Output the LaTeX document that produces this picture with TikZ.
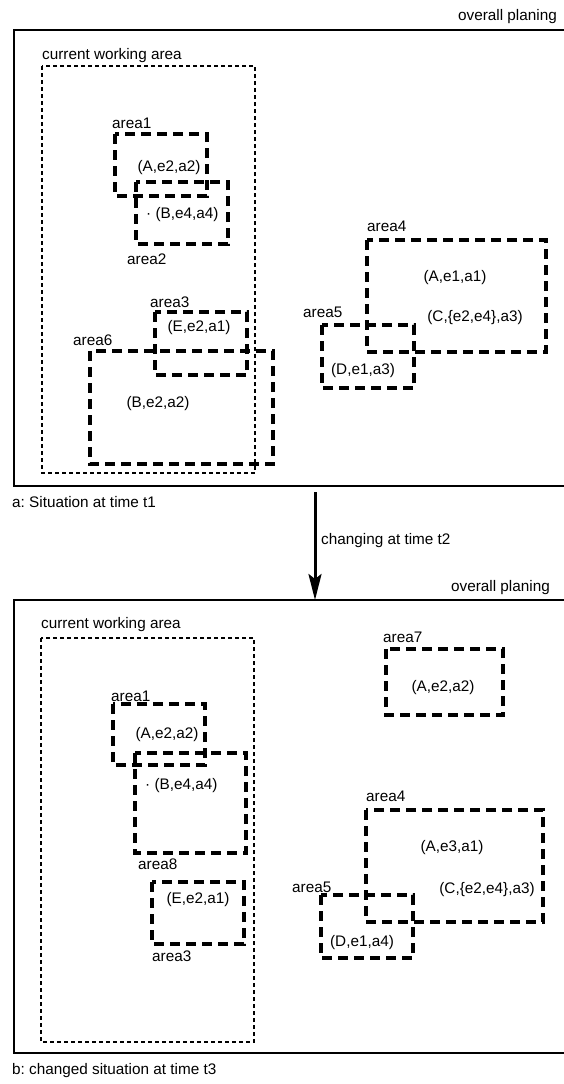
\documentclass[tikz,border=0pt]{standalone}
\usepackage{fontspec}
\setmainfont{Liberation Sans}
\usetikzlibrary{arrows.meta}
\frenchspacing

\begin{document}
\begin{tikzpicture}[x=1pt,y=-1pt,
    frame/.style={line width=2pt},
    workarea/.style={line width=2pt,dash pattern=on 4pt off 3pt},
    areabox/.style={line width=4pt,dash pattern=on 10pt off 6pt},
    txt/.style={inner sep=0pt,font=\fontsize{15.3pt}{18pt}\selectfont,text height=11pt,text depth=3pt}]
    \useasboundingbox (0,0) rectangle (563,1084);

    % a: situation at time t1
    \draw[frame] (14,30) rectangle (575,486);
    \node[txt,anchor=east] (plan1) at (557,16) {overall planing};
    \node[txt,anchor=west] (cap1) at (12,503) {a: Situation at time t1};

    \draw[workarea] (42,66) rectangle (255,473);
    \node[txt,anchor=west] (cwa1) at (42,55) {current working area};

    \draw[areabox] (115,134) rectangle (207,196);
    \node[txt,anchor=west] (lblarea1) at (112,124) {area1};
    \node[txt] (ta1) at (169,167) {(A,e2,a2)};

    \draw[areabox] (136,182) rectangle (228,244);
    \node[txt,anchor=west] (lblarea2) at (127,260) {area2};
    \node[txt,anchor=west] (ta2) at (146,214) {· (B,e4,a4)};

    \draw[areabox] (155,312) rectangle (247,375);
    \node[txt,anchor=west] (lblarea3) at (150,303) {area3};
    \node[txt] (ta3) at (199,327) {(E,e2,a1)};

    \draw[areabox] (90,351) rectangle (273,464);
    \node[txt,anchor=west] (lblarea6) at (73,341) {area6};
    \node[txt] (ta6) at (158,403) {(B,e2,a2)};

    \draw[areabox] (367,240) rectangle (546,352);
    \node[txt,anchor=west] (lblarea4) at (367,227) {area4};
    \node[txt] (ta4) at (455,277) {(A,e1,a1)};
    \node[txt] (tc4) at (475,317) {(C,\{e2,e4\},a3)};

    \draw[areabox] (322,325) rectangle (414,388);
    \node[txt,anchor=west] (lblarea5) at (303,313) {area5};
    \node[txt] (ta5) at (363,370) {(D,e1,a3)};

    % change
    \coordinate (from) at (315,492);
    \coordinate (to) at (315,600);
    \draw[line width=3pt,-{Stealth[length=26pt,width=13pt,inset=5pt]}] (from) -- (to);
    \node[txt,anchor=west] (change) at (321,540) {changing at time t2};

    % b: changed situation at time t3
    \draw[frame] (14,600) rectangle (575,1053);
    \node[txt,anchor=east] (plan2) at (550,587) {overall planing};
    \node[txt,anchor=west] (cap2) at (12,1070) {b: changed situation at time t3};

    \draw[workarea] (41,638) rectangle (254,1042);
    \node[txt,anchor=west] (cwa2) at (41,624) {current working area};

    \draw[areabox] (113,704) rectangle (205,765);
    \node[txt,anchor=west] (lblarea1b) at (111,697) {area1};
    \node[txt] (ta1b) at (167,734) {(A,e2,a2)};

    \draw[areabox] (135,753) rectangle (246,853);
    \node[txt,anchor=west] (lblarea8) at (138,865) {area8};
    \node[txt,anchor=west] (ta8) at (145,785) {· (B,e4,a4)};

    \draw[areabox] (152,882) rectangle (244,944);
    \node[txt,anchor=west] (lblarea3b) at (152,957) {area3};
    \node[txt] (ta3b) at (198,899) {(E,e2,a1)};

    \draw[areabox] (386,649) rectangle (503,715);
    \node[txt,anchor=west] (lblarea7) at (383,638) {area7};
    \node[txt] (ta7) at (443,687) {(A,e2,a2)};

    \draw[areabox] (366,810) rectangle (543,922);
    \node[txt,anchor=west] (lblarea4b) at (366,797) {area4};
    \node[txt] (ta4b) at (452,847) {(A,e3,a1)};
    \node[txt] (tc4b) at (487,889) {(C,\{e2,e4\},a3)};

    \draw[areabox] (321,895) rectangle (413,958);
    \node[txt,anchor=west] (lblarea5b) at (292,888) {area5};
    \node[txt] (ta5b) at (362,942) {(D,e1,a4)};
\end{tikzpicture}
\end{document}
